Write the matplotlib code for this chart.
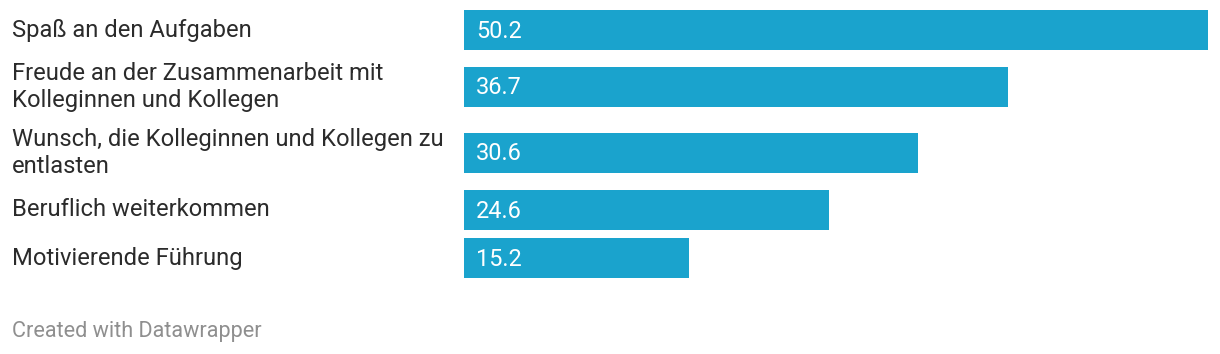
import matplotlib
matplotlib.use("Agg")
import matplotlib.pyplot as plt

plt.rcParams['font.family'] = ['Roboto', 'DejaVu Sans']

labels = [
    "Spaß an den Aufgaben",
    "Freude an der Zusammenarbeit mit\nKolleginnen und Kollegen",
    "Wunsch, die Kolleginnen und Kollegen zu\nentlasten",
    "Beruflich weiterkommen",
    "Motivierende Führung",
]
values = [50.2, 36.7, 30.6, 24.6, 15.2]

W, H = 1220, 354
fig = plt.figure(figsize=(W / 100, H / 100), dpi=100)

# row heights in px depend on how many lines the label needs
centers = []
pos = 6
for lab in labels:
    h = 48 if lab.count("\n") == 0 else 66
    centers.append(pos + h / 2)
    pos += h

# bar area: from x=464 px to x=1208 px
ax = fig.add_axes([464 / W, 0, (1208 - 464) / W, 1])
ax.set_xlim(0, max(values))
ax.set_ylim(H, 0)
ax.axis("off")

ax.barh(centers, values, height=40, color="#1aa3cd")
for c, v in zip(centers, values):
    ax.text(0.8, c + 1, f"{v:.1f}", color="white", fontsize=16.9,
            va="center", ha="left")

for c, lab in zip(centers, labels):
    fig.text(12 / W, 1 - c / H, lab, color="#2b2b2b", fontsize=17.1,
             va="center", ha="left", linespacing=1.2)

fig.text(12 / W, 1 - 331 / H, "Created with Datawrapper", color="#8f8f8f",
         fontsize=15.6, va="center", ha="left")

fig.savefig("out.png", dpi=100)
